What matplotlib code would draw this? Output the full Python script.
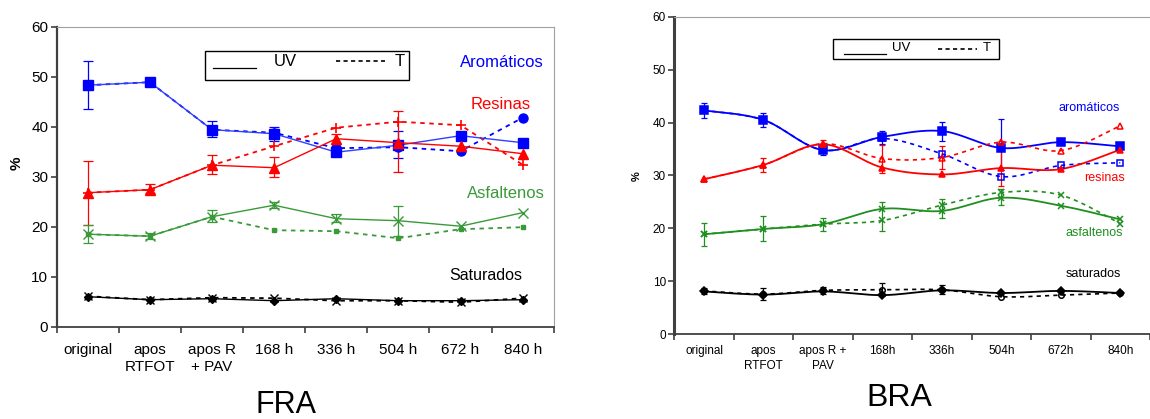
import numpy as np
import matplotlib
matplotlib.use("Agg")
import matplotlib.pyplot as plt
from matplotlib.patches import Rectangle

plt.rcParams["font.family"] = ["Liberation Sans", "DejaVu Sans"]

nan = np.nan

# ---- FRA panel values (%) ----
fra_labels = ["original", "apos\nRTFOT", "apos R\n+ PAV", "168 h", "336 h", "504 h", "672 h", "840 h"]
fra_aro_uv = [48.3, 48.9, 39.4, 38.6, 34.9, 36.3, 38.2, 36.8]
fra_aro_t = [48.3, 48.9, 39.4, 38.8, 35.7, 35.9, 35.1, 41.8]
fra_aro_lo = [43.6, 48.5, 37.9, 37.2, nan, 33.7, nan, nan]
fra_aro_hi = [53.2, 49.3, 41.2, 40.0, nan, 39.2, nan, nan]
fra_res_uv = [26.8, 27.4, 32.3, 31.8, 37.6, 36.8, 36.1, 34.6]
fra_res_t = [26.8, 27.4, 32.3, 36.1, 39.8, 41.0, 40.3, 32.4]
fra_res_lo = [20.4, 26.7, 30.6, 30.0, 36.5, 31.0, nan, nan]
fra_res_hi = [33.2, 28.6, 34.3, 34.0, 38.6, 43.2, nan, nan]
fra_asf_uv = [18.5, 18.1, 22.0, 24.3, 21.6, 21.2, 20.1, 22.8]
fra_asf_t = [18.5, 18.1, 22.0, 19.3, 19.1, 17.7, 19.5, 19.9]
fra_asf_lo = [16.7, 17.6, 21.0, 23.7, 21.0, 18.2, nan, nan]
fra_asf_hi = [20.3, 18.7, 23.3, 25.0, 22.5, 24.2, nan, nan]
fra_sat_uv = [6.0, 5.4, 5.6, 5.2, 5.6, 5.2, 5.2, 5.4]
fra_sat_t = [6.1, 5.4, 5.8, 5.7, 5.2, 5.2, 4.9, 5.7]

# ---- BRA panel values (%) ----
bra_labels = ["original", "apos\nRTFOT", "apos R +\nPAV", "168h", "336h", "504h", "672h", "840h"]
bra_aro_uv = [42.3, 40.5, 34.8, 37.3, 38.4, 35.2, 36.3, 35.5]
bra_aro_t = [42.3, 40.5, 34.8, 37.0, 34.1, 29.8, 31.9, 32.4]
bra_aro_lo = [40.8, 39.2, 33.8, 36.0, 36.6, 31.0, nan, nan]
bra_aro_hi = [43.7, 41.9, 35.6, 38.5, 40.1, 40.7, nan, nan]
bra_res_uv = [29.3, 32.0, 35.9, 31.5, 30.2, 31.4, 31.2, 34.9]
bra_res_t = [29.3, 32.0, 36.0, 33.2, 33.4, 36.3, 34.7, 39.4]
bra_res_lo = [nan, 30.6, 35.0, 30.5, 31.3, 28.0, nan, nan]
bra_res_hi = [nan, 33.3, 36.8, 35.8, 35.5, 36.6, nan, nan]
bra_asf_uv = [18.9, 19.9, 20.8, 23.7, 23.3, 25.8, 24.3, 21.7]
bra_asf_t = [18.9, 19.9, 20.8, 21.5, 24.4, 26.8, 26.3, 20.9]
bra_asf_lo = [16.6, 17.6, 19.5, 19.5, 22.0, 24.5, nan, nan]
bra_asf_hi = [21.0, 22.3, 22.0, 25.0, 25.6, 27.5, nan, nan]
bra_sat_uv = [8.1, 7.5, 8.1, 7.4, 8.3, 7.8, 8.2, 7.8]
bra_sat_t = [8.2, 7.6, 8.3, 8.4, 8.4, 7.1, 7.4, 7.8]
bra_sat_lo = [7.6, 6.4, 7.6, 7.3, 7.6, nan, nan, nan]
bra_sat_hi = [8.7, 8.7, 8.9, 9.6, 9.3, nan, nan, nan]

BLUE = "#0000ff"
RED = "#ff0000"
GREEN_F = "#3a9a3a"
GREEN_B = "#1f8f1f"
BLACK = "#000000"


def smooth(x, y, n=20):
    # Catmull-Rom curve through the points (Excel "smoothed line" look)
    x = np.asarray(x, float)
    y = np.asarray(y, float)
    pts = np.column_stack([x, y])
    out = []
    for i in range(len(pts) - 1):
        p0 = pts[max(i - 1, 0)]
        p1 = pts[i]
        p2 = pts[i + 1]
        p3 = pts[min(i + 2, len(pts) - 1)]
        t = np.linspace(0, 1, n)[:, None]
        seg = 0.5 * ((2 * p1) + (-p0 + p2) * t + (2 * p0 - 5 * p1 + 4 * p2 - p3) * t ** 2
                     + (-p0 + 3 * p1 - 3 * p2 + p3) * t ** 3)
        out.append(seg if i == 0 else seg[1:])
    out = np.vstack(out)
    return out[:, 0], out[:, 1]


def errbars(ax, x, lo, hi, color, cap, lw=0.9):
    lo = np.asarray(lo, float)
    hi = np.asarray(hi, float)
    m = ~np.isnan(lo)
    mid = (lo[m] + hi[m]) / 2
    half = (hi[m] - lo[m]) / 2
    ax.errorbar(x[m], mid, yerr=half, fmt="none",
                ecolor=color, elinewidth=lw, capsize=cap, capthick=lw, zorder=2)


def style_axes(ax, n, right_lim, tick_fs, pad, spine_w):
    ax.set_ylim(0, 60)
    ax.set_yticks(np.arange(0, 61, 10))
    ax.set_xlim(-0.5, right_lim)
    ax.set_xticks(np.arange(n))
    ax.set_xticks(np.arange(n + 1) - 0.5, minor=True)
    ax.tick_params(axis="x", which="major", length=0, pad=pad, labelsize=tick_fs)
    ax.tick_params(axis="x", which="minor", length=4, width=1.2, direction="out", color="#404040")
    ax.tick_params(axis="y", length=4, width=1.2, direction="out", pad=2, labelsize=tick_fs,
                   color="#404040")
    ax.spines["left"].set_linewidth(spine_w)
    ax.spines["left"].set_color("#404040")
    ax.spines["bottom"].set_linewidth(1.3)
    ax.spines["bottom"].set_color("#404040")
    ax.spines["top"].set_color("#a0a0a0")
    ax.spines["right"].set_color("#a0a0a0")


def uv_t_box(ax, box, solid, uv_x, dashed, t_x, line_y, text_y, dash_y, fs):
    # the little framed key: "______ UV   - - - - T"
    x0, y0, x1, y1 = box
    ax.add_patch(Rectangle((x0, y0), x1 - x0, y1 - y0, transform=ax.transAxes,
                           fill=True, facecolor="white", edgecolor="black", lw=1.0, zorder=6))
    ax.plot(solid, [line_y, line_y], color="black", lw=0.9, transform=ax.transAxes, zorder=7)
    ax.plot(dashed, [dash_y, dash_y], color="black", lw=1.2, ls=(0, (2.5, 2.0)),
            transform=ax.transAxes, zorder=7)
    ax.text(uv_x, text_y, "UV", fontsize=fs, transform=ax.transAxes, ha="left", va="center", zorder=7)
    ax.text(t_x, text_y, "T", fontsize=fs, transform=ax.transAxes, ha="left", va="center", zorder=7)


fig = plt.figure(figsize=(11.5, 4.19), dpi=100)
dot = (0, (2.5, 2.5))

# ================= FRA =================
ax1 = fig.add_axes([56.7 / 1150, 1 - 326.7 / 419, 497 / 1150, 300 / 419])
x = np.arange(len(fra_labels))

ax1.plot(x, fra_aro_t, color=BLUE, ls=dot, lw=1.3, marker="o", ms=6.5, zorder=3)
ax1.plot(x, fra_aro_uv, color="#3040ff", lw=1.0, marker="s", ms=6.5, mfc=BLUE, mec=BLUE, zorder=4)
ax1.plot(x, fra_res_t, color=RED, ls=dot, lw=1.3, marker="+", ms=7, mew=1.2, zorder=3)
ax1.plot(x, fra_res_uv, color=RED, lw=1.0, marker="^", ms=6.5, zorder=4)
ax1.plot(x, fra_asf_t, color=GREEN_F, ls=dot, lw=1.3, marker="s", ms=3.5, zorder=3)
ax1.plot(x, fra_asf_uv, color=GREEN_F, lw=1.0, marker="x", ms=6.5, mew=1.0, zorder=4)
ax1.plot(x, fra_sat_t, color=BLACK, ls=dot, lw=1.3, marker="x", ms=5.5, zorder=3)
ax1.plot(x, fra_sat_uv, color=BLACK, lw=1.0, marker="D", ms=4.5, zorder=4)

errbars(ax1, x, fra_aro_lo, fra_aro_hi, BLUE, 3.5)
errbars(ax1, x, fra_res_lo, fra_res_hi, RED, 3.5)
errbars(ax1, x, fra_asf_lo, fra_asf_hi, GREEN_F, 3.5)

style_axes(ax1, len(fra_labels), len(fra_labels) - 0.5, 11, 12, 1.6)
ax1.set_xticklabels(fra_labels, linespacing=1.25)

ax1.text(6.66, 52.9, "Aromáticos", color=BLUE, fontsize=12, ha="center", va="center")
ax1.text(6.64, 44.4, "Resinas", color=RED, fontsize=12, ha="center", va="center")
ax1.text(6.73, 26.7, "Asfaltenos", color=GREEN_F, fontsize=12, ha="center", va="center")
ax1.text(6.41, 10.2, "Saturados", color=BLACK, fontsize=11.5, ha="center", va="center")

uv_t_box(ax1, (0.299, 0.821, 0.709, 0.920), (0.314, 0.402), 0.437, (0.562, 0.660), 0.679,
         0.862, 0.885, 0.885, 12)

fig.text(17 / 1150, 1 - 163 / 419, "%", rotation=90, fontsize=11, fontweight="bold",
         ha="center", va="center")
fig.text(286 / 1150, 1 - 405 / 419, "FRA", fontsize=22, ha="center", va="center")

# ================= BRA =================
ax2 = fig.add_axes([674.3 / 1150, 1 - 334.3 / 419, (1150 - 674.3) / 1150, 317.6 / 419])
x = np.arange(len(bra_labels))

series = [
    (bra_aro_t, BLUE, dot, "s", "none", 5),
    (bra_aro_uv, BLUE, "-", "s", BLUE, 5.5),
    (bra_res_t, RED, dot, "^", "none", 5),
    (bra_res_uv, RED, "-", "^", RED, 5),
    (bra_asf_t, GREEN_B, dot, "x", GREEN_B, 5),
    (bra_asf_uv, GREEN_B, "-", "x", GREEN_B, 5),
    (bra_sat_t, BLACK, dot, "o", "none", 4),
    (bra_sat_uv, BLACK, "-", "D", BLACK, 4),
]
for vals, col, ls, mk, fc, ms in series:
    sx, sy = smooth(x, vals)
    ax2.plot(sx, sy, color=col, ls=ls, lw=1.3 if ls == "-" else 1.2, zorder=3)
    ax2.plot(x, vals, ls="none", marker=mk, ms=ms, mfc=fc, mec=col, mew=1.1, zorder=4)

errbars(ax2, x, bra_aro_lo, bra_aro_hi, BLUE, 2.5)
errbars(ax2, x, bra_res_lo, bra_res_hi, RED, 2.5)
errbars(ax2, x, bra_asf_lo, bra_asf_hi, GREEN_B, 2.5)
errbars(ax2, x, bra_sat_lo, bra_sat_hi, BLACK, 2.5)

style_axes(ax2, len(bra_labels), -0.5 + (1150 - 674.3) / 60.8, 8.5, 8, 2.2)
ax2.spines["right"].set_visible(False)
ax2.set_xticklabels(bra_labels, linespacing=1.3)

ax2.text(6.47, 42.7, "aromáticos", color=BLUE, fontsize=9, ha="center", va="center")
ax2.text(6.74, 29.5, "resinas", color=RED, fontsize=9, ha="center", va="center")
ax2.text(6.57, 19.1, "asfaltenos", color=GREEN_B, fontsize=9, ha="center", va="center")
ax2.text(6.55, 11.4, "saturados", color=BLACK, fontsize=9, ha="center", va="center")

uv_t_box(ax2, (0.334, 0.867, 0.683, 0.930), (0.357, 0.444), 0.457, (0.555, 0.636), 0.649,
         0.882, 0.900, 0.897, 9.5)

fig.text(637 / 1150, 1 - 176 / 419, "%", rotation=90, fontsize=8, fontweight="bold",
         ha="center", va="center")
fig.text(899 / 1150, 1 - 398 / 419, "BRA", fontsize=23, ha="center", va="center")

fig.savefig("out.png", dpi=100)
